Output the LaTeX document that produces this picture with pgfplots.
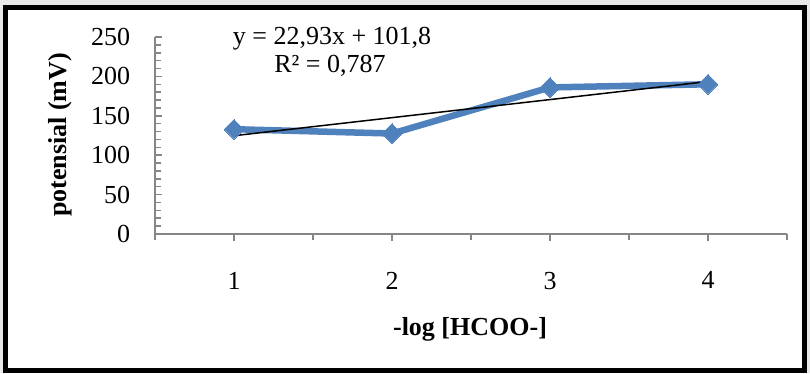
\documentclass[border=0pt]{standalone}
\usepackage{fontspec}
\setmainfont{Liberation Serif}
\usepackage{pgfplots}
\pgfplotsset{compat=1.18}
\definecolor{axisgray}{HTML}{868686}
\definecolor{serblue}{HTML}{4F81BD}
\begin{document}
\fontsize{26bp}{31bp}\selectfont
\begin{tikzpicture}[x=1bp,y=1bp]
\path[use as bounding box] (0,0) rectangle (810,373);
\fill[gray!18] (0,0) rectangle (810,373);
\fill[white] (5.8,2.5) rectangle (804,365.5);
\draw[black, line width=5bp] (5.8,2.5) rectangle (804,365.5);
\begin{axis}[
  at={(155bp,139bp)}, anchor=south west,
  scale only axis, width=632bp, height=197bp,
  xmin=0.5, xmax=4.5, ymin=0, ymax=250,
  axis x line*=bottom, axis y line*=left,
  axis line style={draw=axisgray, line width=1.5bp, -},
  xtick={1,2,3,4}, minor xtick={0.5,1.5,2.5,3.5,4.5},
  ytick={0,50,100,150,200,250}, minor y tick num=4,
  xtick align=outside, ytick align=inside,
  major tick length=7bp, minor tick length=6bp,
  every tick/.style={draw=axisgray, line width=1.5bp},
  every minor tick/.style={draw=axisgray, line width=1.5bp},
  tick label style={font=\fontsize{26bp}{31bp}\selectfont},
  /pgf/number format/assume math mode=true,
  yticklabel style={xshift=-16bp},
  xticklabel style={yshift=-22bp},
]
\addplot[serblue, line width=6.5bp, mark=square*, mark size=7bp,
  mark options={rotate=45, solid, fill=serblue, draw=serblue, line width=0pt}]
  coordinates {(1,133) (2,127.5) (3,186) (4,190)};
\addplot[black, line width=1.5bp, no marks]
  coordinates {(1,124.73) (4,193.52)};
\end{axis}
\node[rotate=90, font=\bfseries] at (60,238) {potensial (mV)};
\node[anchor=base, font=\bfseries] at (470,38) {-log [HCOO-]};
\node[anchor=base] at (332,329) {y = 22,93x + 101,8};
\node[anchor=base] at (330,301) {R² = 0,787};
\end{tikzpicture}
\end{document}
